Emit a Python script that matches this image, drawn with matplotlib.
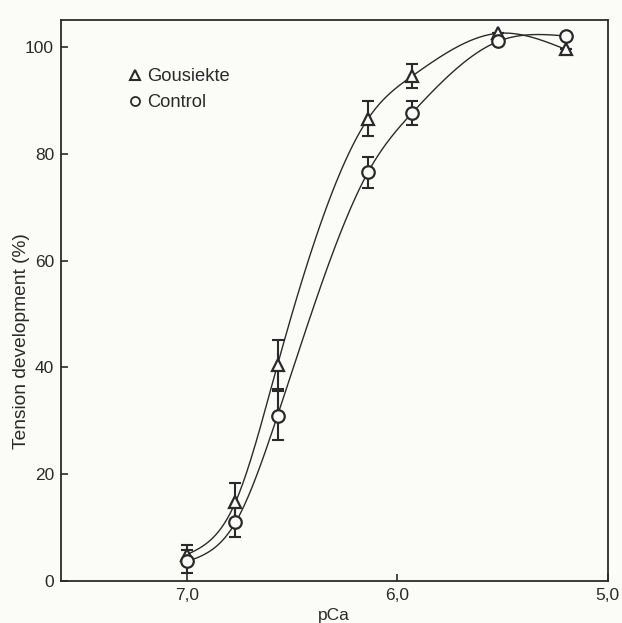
import numpy as np
import matplotlib
matplotlib.use("Agg")
import matplotlib.pyplot as plt
from matplotlib.lines import Line2D

plt.rcParams["font.family"] = ["Liberation Sans", "DejaVu Sans"]

# ---- data ----
pca_g = [7.0, 6.77, 6.57, 6.14, 5.93, 5.52, 5.20]
ten_g = [5.0, 14.8, 40.5, 86.5, 94.5, 102.5, 99.5]
err_g = [1.8, 3.5, 4.6, 3.3, 2.3, 0.0, 0.0]

pca_c = [7.0, 6.77, 6.57, 6.14, 5.93, 5.52, 5.20]
ten_c = [3.7, 11.0, 31.0, 76.5, 87.6, 101.0, 102.0]
err_c = [2.2, 2.8, 4.6, 2.9, 2.2, 0.0, 0.0]

series_names = ["Gousiekte", "Control"]
xticks = [7.0, 6.0, 5.0]
xticklabels = ["7,0", "6,0", "5,0"]
yticks = [0, 20, 40, 60, 80, 100]


def natural_spline(x, y, xs):
    x = np.asarray(x, float)[::-1]
    y = np.asarray(y, float)[::-1]
    n = len(x)
    h = np.diff(x)
    A = np.zeros((n, n))
    b = np.zeros(n)
    A[0, 0] = 1
    A[-1, -1] = 1
    for i in range(1, n - 1):
        A[i, i - 1] = h[i - 1]
        A[i, i] = 2 * (h[i - 1] + h[i])
        A[i, i + 1] = h[i]
        b[i] = 6 * ((y[i + 1] - y[i]) / h[i] - (y[i] - y[i - 1]) / h[i - 1])
    M = np.linalg.solve(A, b)
    out = np.empty_like(xs)
    for k, xv in enumerate(xs):
        i = np.clip(np.searchsorted(x, xv) - 1, 0, n - 2)
        t1 = x[i + 1] - xv
        t0 = xv - x[i]
        out[k] = (M[i] * t1 ** 3 / (6 * h[i]) + M[i + 1] * t0 ** 3 / (6 * h[i])
                  + (y[i] / h[i] - M[i] * h[i] / 6) * t1
                  + (y[i + 1] / h[i] - M[i + 1] * h[i] / 6) * t0)
    return out


bg = "#fbfbf8"
ink = "#2a2a2a"
fig = plt.figure(figsize=(6.22, 6.23), dpi=100, facecolor=bg)
ax = fig.add_axes([0.098, 0.067, 0.879, 0.901])
ax.set_facecolor(bg)

for px, ty in ((pca_g, ten_g), (pca_c, ten_c)):
    xs = np.linspace(min(px), max(px), 300)
    ax.plot(xs, natural_spline(px, ty, xs), color=ink, lw=1.0, zorder=2)

ax.errorbar(pca_g, ten_g, yerr=err_g, fmt="none", ecolor=ink, elinewidth=1.5,
            capsize=4, capthick=1.5, zorder=3)
ax.errorbar(pca_c, ten_c, yerr=err_c, fmt="none", ecolor=ink, elinewidth=1.5,
            capsize=4, capthick=1.5, zorder=3)
ax.plot(pca_g, ten_g, linestyle="none", marker="^", ms=8, mfc=bg,
        mec=ink, mew=1.6, zorder=4)
ax.plot(pca_c, ten_c, linestyle="none", marker="o", ms=9, mfc=bg,
        mec=ink, mew=1.6, zorder=4)

ax.set_xlim(7.6, 5.0)
ax.set_ylim(0, 105)
ax.set_xticks(xticks)
ax.set_xticklabels(xticklabels)
ax.set_yticks(yticks)
ax.tick_params(direction="in", length=5, width=1.2, labelsize=12.5,
               colors=ink)
ax.tick_params(axis="y", pad=5)
ax.tick_params(axis="x", pad=5)
for s in ax.spines.values():
    s.set_linewidth(1.3)
    s.set_color(ink)

ax.set_xlabel("pCa", fontsize=12.5, color=ink, va="center")
ax.xaxis.set_label_coords(0.5, -0.061)
ax.set_ylabel("Tension development (%)", fontsize=13.8, color=ink, va="center")
ax.yaxis.set_label_coords(-0.073, 0.428)

handles = [
    Line2D([], [], linestyle="none", marker="^", ms=7, mfc=bg, mec=ink, mew=1.5),
    Line2D([], [], linestyle="none", marker="o", ms=6.5, mfc=bg, mec=ink, mew=1.3),
]
leg = ax.legend(handles, series_names, loc="upper left",
                bbox_to_anchor=(0.1235, 0.914), frameon=False,
                fontsize=13.2, handlelength=0.7, handletextpad=0.3,
                labelspacing=0.5, borderaxespad=0, borderpad=0)
for t in leg.get_texts():
    t.set_color(ink)

fig.savefig("out.png", dpi=100, facecolor=fig.get_facecolor())
